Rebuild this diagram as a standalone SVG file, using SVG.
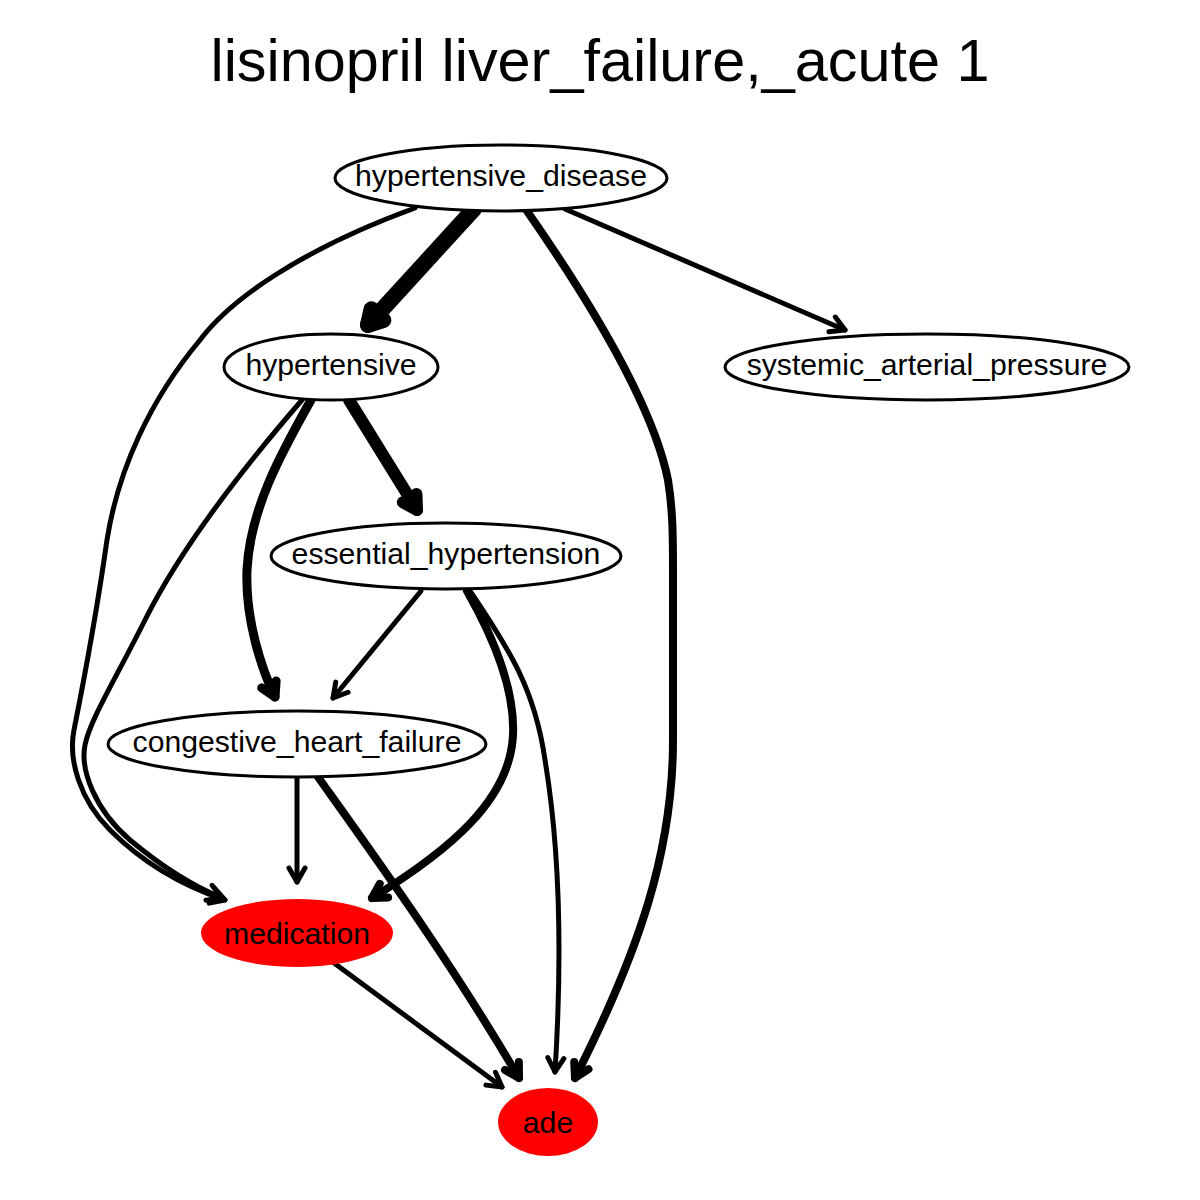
<svg xmlns="http://www.w3.org/2000/svg" width="1200" height="1200" viewBox="0 0 1200 1200">
<style>
  .bg { fill: #ffffff; }
  .title { font-family: "Liberation Sans", Arial, sans-serif; font-size: 59.4px; fill: #000; text-anchor: middle; }
  .node ellipse.plain { fill: #ffffff; stroke: #000; stroke-width: 3; }
  .node ellipse.red { fill: #ff0000; stroke: none; }
  .node text { font-family: "Liberation Sans", Arial, sans-serif; font-size: 30.2px; fill: #000; text-anchor: middle; }
  .edge { fill: none; stroke: #000; stroke-linecap: round; stroke-linejoin: round; }
  .w5 { stroke-width: 5; marker-end: url(#a5); }
  .w8 { stroke-width: 8; marker-end: url(#a8); }
  .w9 { stroke-width: 9; marker-end: url(#a9); }
  .w12 { stroke-width: 12; marker-end: url(#a12); }
  .w15 { stroke-width: 16; marker-end: url(#a15); }
  .ah { fill: none; stroke: #000; stroke-linecap: round; stroke-linejoin: round; }
</style>
<defs>
  <marker id="a5" markerUnits="userSpaceOnUse" refX="0" refY="0" markerWidth="60" markerHeight="60" orient="auto" overflow="visible">
    <path class="ah" d="M-14,-8 L0,0 L-14,8" stroke-width="5"/>
  </marker>
  <marker id="a8" markerUnits="userSpaceOnUse" refX="0" refY="0" markerWidth="60" markerHeight="60" orient="auto" overflow="visible">
    <path class="ah" d="M-14,-8 L0,0 L-14,8" stroke-width="8"/>
  </marker>
  <marker id="a9" markerUnits="userSpaceOnUse" refX="0" refY="0" markerWidth="60" markerHeight="60" orient="auto" overflow="visible">
    <path class="ah" d="M-14,-8 L0,0 L-14,8" stroke-width="9"/>
  </marker>
  <marker id="a12" markerUnits="userSpaceOnUse" refX="0" refY="0" markerWidth="60" markerHeight="60" orient="auto" overflow="visible">
    <path class="ah" d="M-14,-8 L0,0 L-14,8" stroke-width="12"/>
  </marker>
  <marker id="a15" markerUnits="userSpaceOnUse" refX="0" refY="0" markerWidth="60" markerHeight="60" orient="auto" overflow="visible">
    <path class="ah" d="M-14,-8 L0,0 L-14,8" stroke-width="16"/>
  </marker>
</defs>
<rect class="bg" x="0" y="0" width="1200" height="1200"/>
<text class="title" x="600" y="81">lisinopril liver_failure,_acute 1</text>

<g id="edges">
  <path id="e_hd_hyp" class="edge w15" d="M474,209 L368,325"/>
  <path id="e_hd_sys" class="edge w5" d="M565,209 L845,330"/>
  <path id="e_hd_ade" class="edge w8" d="M527,211 C582,290 652,400 668,480 C673,510 673,540 673,570 L673,740 C673,850 640,950 575,1078"/>
  <path id="e_hd_med" class="edge w5" d="M415,208 C300,250 230,300 200,340 C150,400 118,470 107,540 C97,610 80,700 74,730 C68,760 80,800 110,830 C140,860 180,885 225,900"/>
  <path id="e_hyp_med" class="edge w5" d="M302,400 C250,460 185,540 145,620 C115,680 90,720 85,745 C80,770 95,810 130,840 C160,865 190,885 222,898"/>
  <path id="e_hyp_chf" class="edge w9" d="M311,400 C280,455 250,510 247,570 C245,620 262,670 275,697"/>
  <path id="e_hyp_ess" class="edge w12" d="M349,400 L417,510"/>
  <path id="e_ess_chf" class="edge w5" d="M421,591 L333,698"/>
  <path id="e_ess_med" class="edge w8" d="M467,591 C495,640 515,690 513,735 C510,800 450,850 372,898"/>
  <path id="e_ess_ade" class="edge w5" d="M470,591 C510,650 535,690 545,760 C560,850 562,960 555,1072"/>
  <path id="e_chf_med" class="edge w5" d="M297,777 L297,882"/>
  <path id="e_chf_ade" class="edge w8" d="M318,777 C370,850 450,960 519,1078"/>
  <path id="e_med_ade" class="edge w5" d="M334,963 L502,1087"/>
</g>

<g id="n_hypertensive_disease" class="node">
  <ellipse class="plain" cx="501" cy="178" rx="166" ry="33"/>
  <text x="501" y="186">hypertensive_disease</text>
</g>
<g id="n_hypertensive" class="node">
  <ellipse class="plain" cx="331" cy="367" rx="107" ry="33"/>
  <text x="331" y="375">hypertensive</text>
</g>
<g id="n_systemic_arterial_pressure" class="node">
  <ellipse class="plain" cx="927" cy="367" rx="202" ry="33"/>
  <text x="927" y="375">systemic_arterial_pressure</text>
</g>
<g id="n_essential_hypertension" class="node">
  <ellipse class="plain" cx="446" cy="556" rx="175" ry="33"/>
  <text x="446" y="564">essential_hypertension</text>
</g>
<g id="n_congestive_heart_failure" class="node">
  <ellipse class="plain" cx="297" cy="744" rx="189" ry="33"/>
  <text x="297" y="752">congestive_heart_failure</text>
</g>
<g id="n_medication" class="node">
  <ellipse class="red" cx="297" cy="933" rx="96" ry="34"/>
  <text x="297" y="944">medication</text>
</g>
<g id="n_ade" class="node">
  <ellipse class="red" cx="548" cy="1122" rx="50" ry="34"/>
  <text x="548" y="1133">ade</text>
</g>
</svg>
